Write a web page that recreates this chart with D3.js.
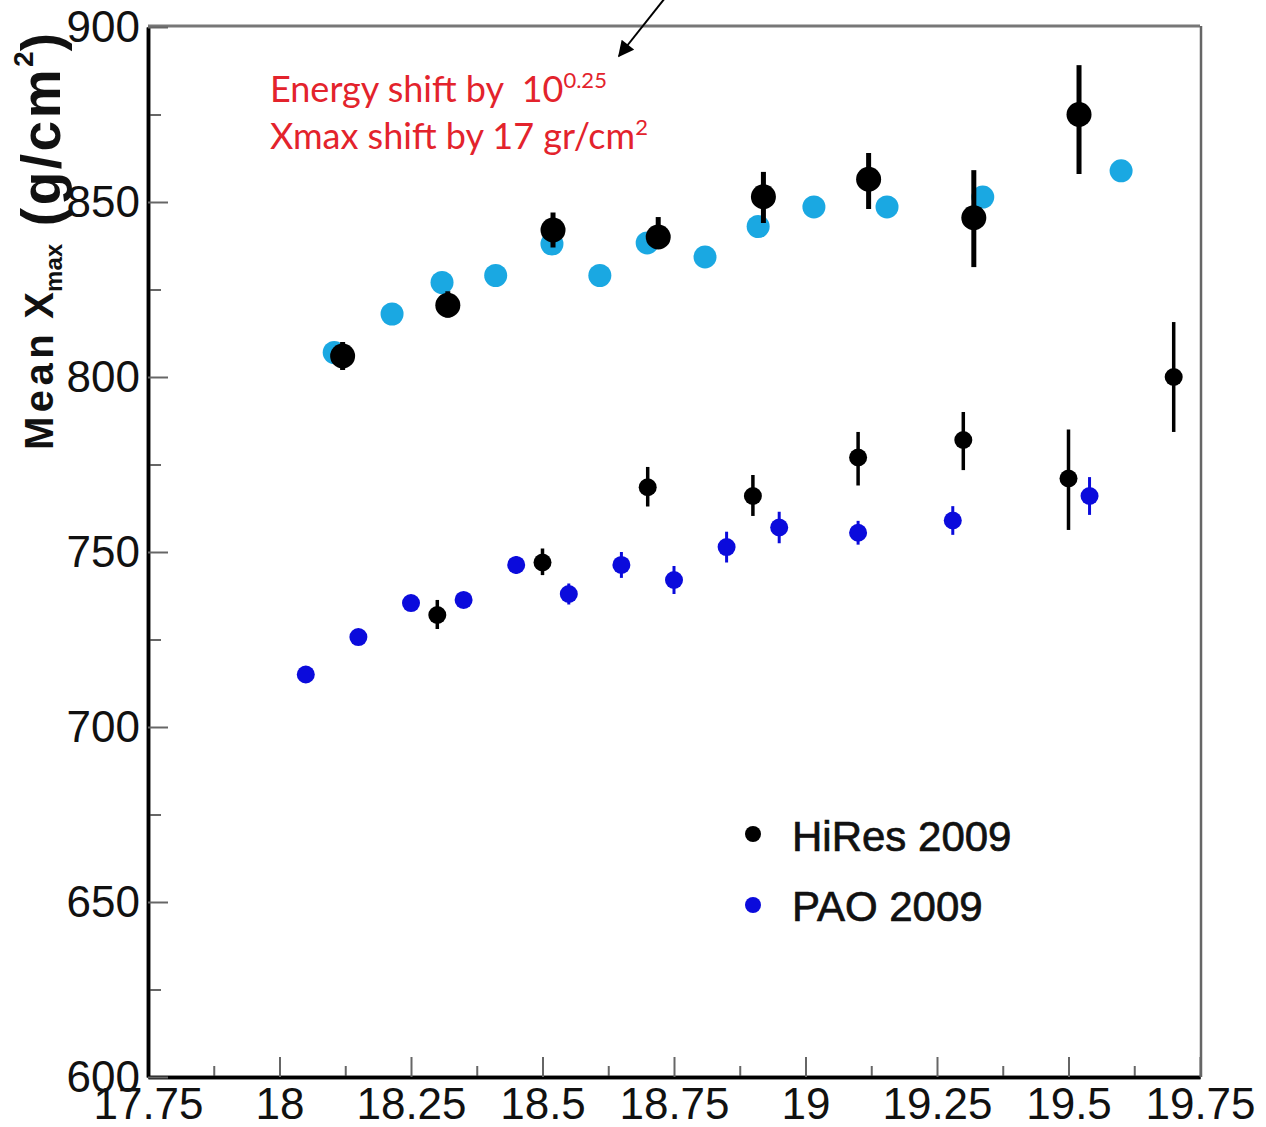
<!DOCTYPE html>
<html>
<head>
<meta charset="utf-8">
<script src="https://cdn.jsdelivr.net/npm/d3@7"></script>
<style>
  body { margin: 0; background: #fff; }
  .axis text { font-family: "Liberation Sans", Arial, sans-serif; font-size: 44px; fill: #111; }
  .axis .tick line { stroke: #666; stroke-width: 2; }
  .axis path.domain { stroke: #000; stroke-width: 3.5; }
  .legend text { font-family: "Liberation Sans", Arial, sans-serif; font-size: 42px; fill: #111; stroke: #111; stroke-width: 0.7; }
  .note { font-family: Lato, "Open Sans", sans-serif; font-size: 36px; fill: #e3232c; }
</style>
</head>
<body>
<div id="chart"></div>
<script>

// ticks
var xTicks = [17.75, 18, 18.25, 18.5, 18.75, 19, 19.25, 19.5, 19.75];
var xTickLabels = ["17.75", "18", "18.25", "18.5", "18.75", "19", "19.25", "19.5", "19.75"];
var xMinor = [17.875, 18.125, 18.375, 18.625, 18.875, 19.125, 19.375, 19.625];
var yTicks = [600, 650, 700, 750, 800, 850, 900];
var yMinor = [625, 675, 725, 775, 825, 875];

// HiRes 2009 (black, small)
var hiresE = [18.30, 18.50, 18.70, 18.90, 19.10, 19.30, 19.50, 19.70];
var hiresX = [732, 747, 768.5, 766, 777, 782, 771, 800];
var hiresLo = [728, 743.4, 763, 760.3, 769, 773.4, 756.3, 784.3];
var hiresHi = [736.3, 751, 774.3, 772, 784.3, 790, 785, 815.7];

// HiRes shifted (black, large)
var hiresShE = [18.12, 18.32, 18.52, 18.72, 18.92, 19.12, 19.32, 19.52];
var hiresShX = [806, 820.5, 842, 840, 851.5, 856.5, 845.5, 875];
var hiresShLo = [802, 817, 837, 836.9, 844, 848, 831.4, 858];
var hiresShHi = [810, 824.5, 847, 845.7, 858.6, 864, 859.1, 889.1];

// PAO 2009 (blue)
var paoE = [18.05, 18.15, 18.25, 18.35, 18.45, 18.55, 18.65, 18.75, 18.85, 18.95, 19.10, 19.28, 19.54];
var paoX = [715, 725.7, 735.4, 736.3, 746.3, 738, 746.3, 742, 751.4, 757, 755.5, 759, 766];
var paoErr = [2, 2, 2, 2, 2.5, 3, 3.7, 4, 4.4, 4.5, 3.4, 4.1, 5.4];

// PAO shifted (light blue)
var paoShE = [18.104, 18.214, 18.309, 18.411, 18.518, 18.609, 18.699, 18.809, 18.91, 19.016, 19.155, 19.337, 19.60];
var paoShX = [807, 818, 827, 829, 838, 829, 838.3, 834.3, 843, 848.6, 848.6, 851.4, 858.9];

var legendNames = ["HiRes 2009", "PAO 2009"];
var legendColors = ["#000", "#0b0bdc"];

// SVG attributes
var W = 1266, H = 1127;
var margin = {left: 148, right: 66, top: 27, bottom: 50};

var svg = d3.select("#chart").append("svg")
    .attr("width", W)
    .attr("height", H);

var x = d3.scaleLinear().domain([17.75, 19.75]).range([margin.left, W - margin.right]);
var y = d3.scaleLinear().domain([600, 900]).range([H - margin.bottom, margin.top]);

// frame (top + right)
svg.append("line")
    .attr("x1", x(17.75)).attr("x2", x(19.75))
    .attr("y1", y(900) - 1).attr("y2", y(900) - 1)
    .attr("stroke", "#777").attr("stroke-width", 3);
svg.append("line")
    .attr("x1", x(19.75) + 1).attr("x2", x(19.75) + 1)
    .attr("y1", y(900) - 1).attr("y2", y(600))
    .attr("stroke", "#666").attr("stroke-width", 2.5);

// axes
svg.append("g")
    .attr("class", "axis")
    .attr("transform", "translate(0," + y(600) + ")")
    .call(d3.axisBottom(x).tickValues(xMinor).tickSize(-11).tickSizeOuter(0).tickFormat(""));
svg.append("g")
    .attr("class", "axis")
    .attr("transform", "translate(0," + y(600) + ")")
    .call(d3.axisBottom(x).tickValues(xTicks).tickSize(-20).tickSizeOuter(0).tickPadding(11)
        .tickFormat(function(d, i) { return xTickLabels[i]; }));

svg.append("g")
    .attr("class", "axis")
    .attr("transform", "translate(" + x(17.75) + ",0)")
    .call(d3.axisLeft(y).tickValues(yMinor).tickSize(-13).tickSizeOuter(0).tickFormat(""));
svg.append("g")
    .attr("class", "axis")
    .attr("transform", "translate(" + x(17.75) + ",0)")
    .call(d3.axisLeft(y).tickValues(yTicks).tickSize(-20).tickSizeOuter(0).tickPadding(8));

// y axis title (rotated, reads bottom to top)
var ytitle = svg.append("text")
    .attr("transform", "translate(53,450) rotate(-90)")
    .attr("font-family", "'Liberation Sans', Arial, sans-serif")
    .attr("font-weight", "bold")
    .attr("fill", "#111");
ytitle.append("tspan").attr("font-size", 40).attr("letter-spacing", 4.5).text("Mean");
ytitle.append("tspan").attr("font-size", 40).text(" X");
ytitle.append("tspan").attr("font-size", 24).attr("dy", 9).text("max");
ytitle.append("tspan").attr("font-size", 55).attr("dy", -2).attr("letter-spacing", 2.5).text(" (g/cm");
ytitle.append("tspan").attr("font-size", 28).attr("dy", -27).text("2");
ytitle.append("tspan").attr("font-size", 55).attr("dy", 27).text(")");

// error bars
function errBars(E, lo, hi, w) {
  svg.append("g").selectAll("line")
    .data(E)
    .enter().append("line")
    .attr("x1", function(d) { return x(d); })
    .attr("x2", function(d) { return x(d); })
    .attr("y1", function(d, i) { return y(lo[i]); })
    .attr("y2", function(d, i) { return y(hi[i]); })
    .attr("stroke", "#000")
    .attr("stroke-width", w);
}

function dots(E, V, r, color) {
  svg.append("g").selectAll("circle")
    .data(E)
    .enter().append("circle")
    .attr("cx", function(d) { return x(d); })
    .attr("cy", function(d, i) { return y(V[i]); })
    .attr("r", r)
    .attr("fill", color);
}

// upper group: shifted
dots(paoShE, paoShX, 11.5, "#1aa8e2");
errBars(hiresShE, hiresShLo, hiresShHi, 5);
dots(hiresShE, hiresShX, 12.5, "#000");

// lower group
svg.append("g").selectAll("line")
    .data(paoE)
    .enter().append("line")
    .attr("x1", function(d) { return x(d); })
    .attr("x2", function(d) { return x(d); })
    .attr("y1", function(d, i) { return y(paoX[i] - paoErr[i]); })
    .attr("y2", function(d, i) { return y(paoX[i] + paoErr[i]); })
    .attr("stroke", "#0b0bdc")
    .attr("stroke-width", 3);
dots(paoE, paoX, 9, "#0b0bdc");
errBars(hiresE, hiresLo, hiresHi, 3.5);
dots(hiresE, hiresX, 9, "#000");

// legend
var legend = svg.append("g").attr("class", "legend");
legend.selectAll("circle")
    .data(legendNames)
    .enter().append("circle")
    .attr("cx", 753)
    .attr("cy", function(d, i) { return 834 + i * 71; })
    .attr("r", 8)
    .attr("fill", function(d, i) { return legendColors[i]; });
legend.selectAll("text")
    .data(legendNames)
    .enter().append("text")
    .attr("x", 792)
    .attr("y", function(d, i) { return 851 + i * 70; })
    .text(function(d) { return d; });

// annotation
var note1 = svg.append("text").attr("class", "note").attr("x", 270).attr("y", 102);
note1.append("tspan").text("Energy shift by\u00a0 10");
note1.append("tspan").attr("font-size", 22).attr("dy", -14).text("0.25");
var note2 = svg.append("text").attr("class", "note").attr("x", 270).attr("y", 149);
note2.append("tspan").text("Xmax shift by 17 gr/cm");
note2.append("tspan").attr("font-size", 22).attr("dy", -14).text("2");

// arrow
svg.append("defs").append("marker")
    .attr("id", "head")
    .attr("viewBox", "0 0 10 10")
    .attr("refX", 9).attr("refY", 5)
    .attr("markerWidth", 18).attr("markerHeight", 16)
    .attr("markerUnits", "userSpaceOnUse")
    .attr("orient", "auto")
    .append("path")
    .attr("d", "M0,0 L10,5 L0,10 z")
    .attr("fill", "#000");
svg.append("line")
    .attr("x1", 665).attr("y1", -2)
    .attr("x2", 619).attr("y2", 56)
    .attr("stroke", "#000")
    .attr("stroke-width", 2)
    .attr("marker-end", "url(#head)");

</script>
</body>
</html>
